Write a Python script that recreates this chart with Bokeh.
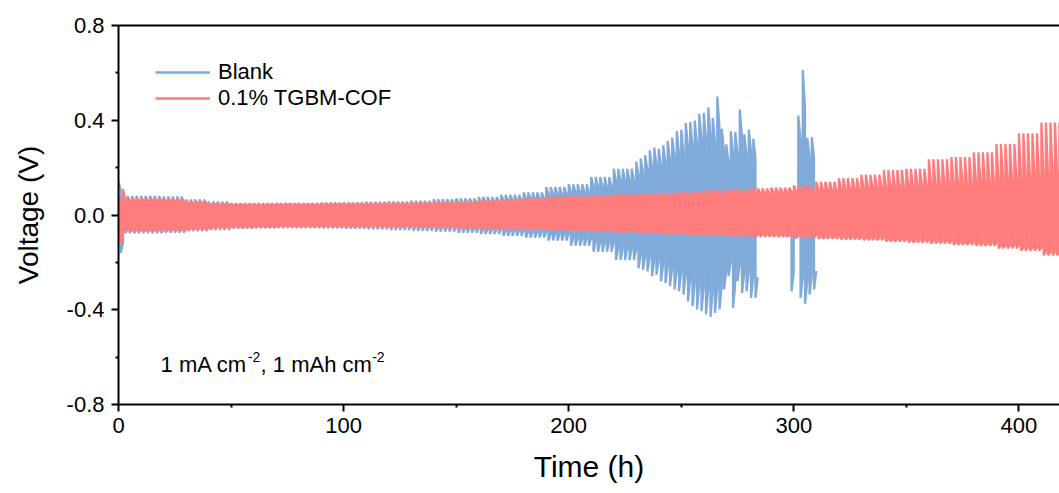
import numpy as np
from bokeh.plotting import figure
from bokeh.models import Range1d, Label, Legend, LegendItem, LinearAxis, FixedTicker, PrintfTickFormatter
from bokeh.embed import file_html
from bokeh.resources import INLINE

# ---------------- data ----------------
CYCLE_H = 2          # 1 h charge + 1 h discharge
BLOCK_H = 10         # envelope values are read per 10 h block

# Blank: peak voltages per 10 h block, 0-230 h
blank_block_up = [0.08, 0.08, 0.078, 0.065, 0.056, 0.05, 0.05, 0.05, 0.05, 0.052,
                  0.053, 0.055, 0.057, 0.06, 0.066, 0.07, 0.076, 0.085, 0.095, 0.118,
                  0.13, 0.16, 0.195, 0.225]
blank_block_lo = [-0.077, -0.077, -0.075, -0.068, -0.063, -0.058, -0.056, -0.055, -0.055, -0.056,
                  -0.058, -0.06, -0.063, -0.066, -0.07, -0.075, -0.08, -0.088, -0.095, -0.108,
                  -0.13, -0.155, -0.19, -0.225]
blank_first_up = 0.14
blank_first_lo = -0.16
# Blank: individual cycles in the unstable region (start time, peaks)
blank_cycle_t = [232, 234, 236, 238, 240, 242, 244, 246, 248, 250, 252, 254, 256,
                 258, 260, 262, 264, 266, 268, 270, 272, 274, 276, 278, 280, 282,
                 298, 300, 302, 304, 306, 308]
blank_cycle_up = [0.238, 0.253, 0.273, 0.284, 0.28, 0.294, 0.312, 0.326, 0.354, 0.36, 0.388, 0.392, 0.399,
                  0.427, 0.431, 0.455, 0.41, 0.50, 0.364, 0.298, 0.354, 0.35, 0.445, 0.34, 0.36, 0.322,
                  0.10, 0.10, 0.42, 0.612, 0.326, 0.329]
blank_cycle_lo = [-0.231, -0.238, -0.259, -0.252, -0.28, -0.287, -0.30, -0.315, -0.322, -0.336, -0.364, -0.385, -0.399,
                  -0.406, -0.42, -0.43, -0.413, -0.399, -0.315, -0.259, -0.392, -0.28, -0.329, -0.322, -0.35, -0.35,
                  -0.322, -0.10, -0.35, -0.375, -0.336, -0.315]

# 0.1% TGBM-COF: per 10 h block, 0-410 h
red_block_up = [0.07, 0.07, 0.068, 0.058, 0.05, 0.047, 0.047, 0.048, 0.048, 0.049,
                0.049, 0.05, 0.05, 0.052, 0.054, 0.056, 0.06, 0.064, 0.07, 0.077,
                0.08, 0.083, 0.087, 0.09, 0.093, 0.098, 0.103, 0.108, 0.112, 0.115,
                0.125, 0.14, 0.155, 0.17, 0.19, 0.195, 0.235, 0.245, 0.265, 0.30,
                0.345, 0.39]
red_block_plat = [0.062, 0.062, 0.06, 0.052, 0.045, 0.043, 0.043, 0.044, 0.044, 0.045,
                  0.045, 0.046, 0.046, 0.047, 0.049, 0.05, 0.054, 0.057, 0.062, 0.068,
                  0.07, 0.073, 0.076, 0.078, 0.08, 0.084, 0.088, 0.092, 0.095, 0.097,
                  0.10, 0.105, 0.11, 0.115, 0.115, 0.12, 0.125, 0.13, 0.135, 0.145,
                  0.155, 0.165]
red_block_lo = [-0.07, -0.07, -0.068, -0.062, -0.056, -0.054, -0.052, -0.05, -0.05, -0.05,
                -0.05, -0.05, -0.052, -0.053, -0.054, -0.055, -0.057, -0.058, -0.06, -0.063,
                -0.066, -0.07, -0.073, -0.077, -0.08, -0.083, -0.086, -0.089, -0.091, -0.092,
                -0.095, -0.10, -0.103, -0.106, -0.112, -0.116, -0.12, -0.126, -0.13, -0.14,
                -0.15, -0.17]
red_first_lo = -0.12
red_second_up = 0.11
red_end_h = 420

x_ticks = [0, 100, 200, 300, 400]
x_minor = [50, 150, 250, 350]
y_ticks = [-0.8, -0.4, 0.0, 0.4, 0.8]
y_minor = [-0.6, -0.2, 0.2, 0.6]

BLANK_PLAT = 0.75
RED_LO_PLAT = 0.92


def build(ts, ups, plat_ups, los, plat_los):
    xs, ys = [], []
    prev_end = None
    for t, u, pu, l, pl in zip(ts, ups, plat_ups, los, plat_los):
        if prev_end is not None and t - prev_end > 0.5:
            xs.append(np.nan)
            ys.append(np.nan)
        xs += [t, t + 0.95, t + 1.0, t + 1.95]
        ys += [u, pu, l, pl]
        prev_end = t + CYCLE_H
    return xs, ys


# Blank series
b_t, b_u, b_l = [], [], []
for t in range(0, 232, CYCLE_H):
    i = t // BLOCK_H
    b_t.append(t)
    b_u.append(blank_block_up[i])
    b_l.append(blank_block_lo[i])
b_u[0] = blank_first_up
b_l[0] = blank_first_lo
b_t += blank_cycle_t
b_u += blank_cycle_up
b_l += blank_cycle_lo
bx, by = build(b_t, b_u, [v * BLANK_PLAT for v in b_u], b_l, [v * BLANK_PLAT for v in b_l])

# COF series
r_t, r_u, r_p, r_l = [], [], [], []
for t in range(0, red_end_h, CYCLE_H):
    i = min(t // BLOCK_H, len(red_block_up) - 1)
    r_t.append(t)
    r_u.append(red_block_up[i])
    r_p.append(red_block_plat[i])
    r_l.append(red_block_lo[i])
r_l[0] = red_first_lo
r_u[1] = red_second_up
rx, ry = build(r_t, r_u, r_p, r_l, [v * RED_LO_PLAT for v in r_l])

# ---------------- figure ----------------
FONT = "Liberation Sans"
W, H = 1059, 485
ML, MT, MB = 118, 25, 79
PX_PER_H = 2.251
x_end = (W - ML) / PX_PER_H

p = figure(width=W, height=H, x_range=Range1d(0, x_end), y_range=Range1d(-0.8, 0.8),
           output_backend="svg", toolbar_location=None,
           min_border_left=ML, min_border_right=0, min_border_top=MT, min_border_bottom=MB)
p.background_fill_color = "white"
p.border_fill_color = "white"
p.outline_line_color = None
p.xgrid.visible = False
p.ygrid.visible = False

BLUE = "#80AADA"
RED = "#FF7C7C"
rb = p.line(bx, by, line_color=BLUE, line_width=2.3)
rr = p.line(rx, ry, line_color=RED, line_width=2.3)

for ax in (p.xaxis[0], p.yaxis[0]):
    ax.axis_line_width = 2
    ax.axis_line_color = "black"
    ax.major_tick_line_width = 2
    ax.minor_tick_line_width = 2
    ax.major_tick_out = 7
    ax.major_tick_in = 0
    ax.minor_tick_out = 3
    ax.minor_tick_in = 0
    ax.major_label_text_font = FONT
    ax.major_label_text_font_size = "22px"
    ax.major_label_text_color = "black"
    ax.axis_label_text_font = FONT
    ax.axis_label_text_font_style = "normal"
    ax.axis_label_text_color = "black"

p.xaxis.axis_label_text_font_size = "30px"
p.yaxis.axis_label_text_font_size = "28px"
p.xaxis.ticker = FixedTicker(ticks=x_ticks, minor_ticks=x_minor)
p.yaxis.ticker = FixedTicker(ticks=y_ticks, minor_ticks=y_minor)
p.yaxis.formatter = PrintfTickFormatter(format="%.1f")
p.xaxis.axis_label = "Time (h)"
p.yaxis.axis_label = "Voltage (V)"
p.xaxis.major_label_standoff = 6
p.yaxis.major_label_standoff = 7
p.xaxis.axis_label_standoff = 14
p.yaxis.axis_label_standoff = 20

top = LinearAxis(axis_line_width=2, axis_line_color="black",
                 major_tick_out=0, major_tick_in=0, minor_tick_out=0, minor_tick_in=0,
                 major_label_text_font_size="0px", major_label_text_color=None)
top.ticker = FixedTicker(ticks=[])
p.add_layout(top, "above")

legend = Legend(items=[LegendItem(label="Blank", renderers=[rb]),
                       LegendItem(label="0.1% TGBM-COF", renderers=[rr])],
                location=(37, 293), orientation="vertical",
                background_fill_alpha=0, border_line_color=None,
                padding=0, margin=0, spacing=0,
                glyph_width=55, glyph_height=26, label_height=26, label_standoff=8,
                label_text_font=FONT, label_text_font_size="22px", label_text_color="black")
p.add_layout(legend)

# condition annotation with superscripts
ax0 = 18.7
ay0 = -0.633
parts = [("1 mA cm", 22, 0.0, 0), ("-2", 14, 87.3, 8), (", 1 mAh cm", 22, 100.0, 0), ("-2", 14, 211.6, 8)]
for txt, fs, dx, dy in parts:
    p.add_layout(Label(x=ax0, y=ay0, x_offset=dx, y_offset=dy, text=txt,
                       text_font=FONT, text_font_size=f"{fs}px", text_color="black",
                       text_baseline="alphabetic", text_align="left"))

open("out.html", "w").write(file_html(p, INLINE))
